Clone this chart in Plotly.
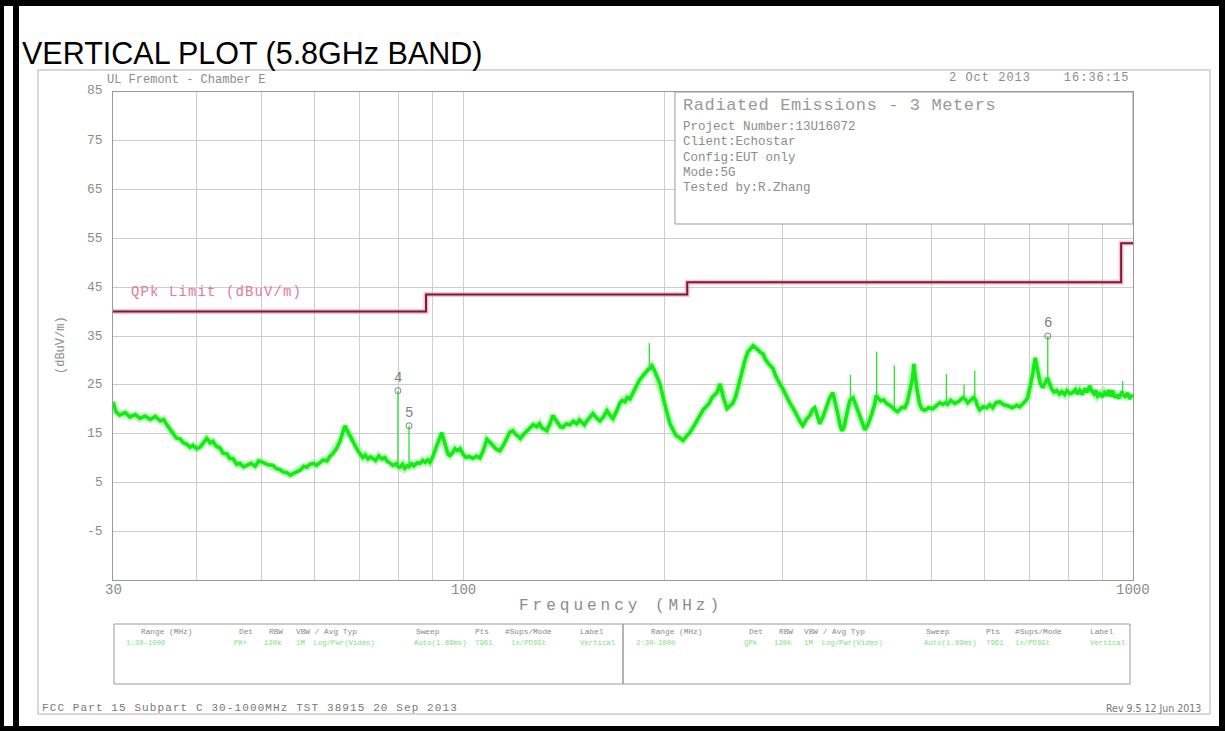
import plotly.graph_objects as go
import math

# ---------------- data ----------------
# measured peak trace (MHz, dBuV/m), read off the picture segment by segment
freq_30_100 = [
    30.0, 30.3, 30.7, 31.3, 31.8, 32.4, 32.9, 33.5, 34.1, 34.7, 35.3, 35.7, 36.1, 36.5, 36.9, 37.3,
    37.8, 38.2, 38.7, 39.1, 39.5, 40.0, 40.5, 40.9, 41.4, 41.9, 42.3, 42.8, 43.3, 43.8, 44.4, 44.8,
    45.3, 45.9, 46.4, 47.0, 47.5, 48.2, 48.9, 49.5, 50.2, 51.1, 52.0, 52.6, 53.3, 53.9, 54.6, 55.2,
    55.7, 56.4, 57.1, 57.8, 58.4, 59.0, 59.7, 60.4, 61.1, 61.8, 62.6, 63.2, 63.9, 64.7, 65.5, 66.1,
    66.6, 67.0, 67.5, 68.4, 69.0, 69.6, 70.8, 71.4, 72.1, 72.7, 73.3, 74.0, 74.8, 75.6, 76.4, 77.0,
    77.7, 78.5, 79.5, 79.9, 80.4, 81.2, 81.8, 82.5, 83.0, 83.7, 84.4, 85.3, 86.2, 87.0, 87.7, 88.5,
    89.2, 90.1, 91.1, 92.0, 92.9, 93.5, 94.2, 94.9, 95.5, 96.3, 97.2, 98.0, 98.9, 99.9, 100.9,
]
level_30_100 = [
    21.5, 19.5, 18.8, 19.3, 18.4, 18.9, 18.1, 18.6, 17.9, 18.5, 17.6, 17.9, 16.8, 15.9, 15.2, 14.1,
    13.9, 13.1, 12.8, 12.2, 12.6, 11.9, 12.3, 13.2, 14.0, 13.1, 13.4, 12.4, 12.1, 11.0, 10.8, 9.9,
    9.9, 8.7, 8.9, 8.2, 8.5, 8.9, 8.3, 9.4, 9.1, 8.6, 8.5, 7.8, 7.6, 7.1, 7.0, 6.5,
    6.8, 7.2, 7.5, 8.3, 8.1, 8.7, 8.9, 8.5, 9.1, 9.6, 9.4, 10.3, 10.9, 12.0, 13.5, 15.0,
    16.6, 15.8, 15.0, 13.6, 12.3, 11.5, 10.1, 10.6, 9.8, 10.2, 9.9, 9.5, 10.4, 9.8, 10.1, 9.3,
    9.0, 8.5, 8.8, 8.3, 8.1, 8.7, 7.9, 8.4, 8.2, 8.8, 8.4, 9.0, 8.9, 9.5, 9.1, 9.6,
    9.1, 10.3, 12.2, 14.0, 15.2, 13.8, 11.9, 10.8, 10.5, 11.0, 11.9, 11.5, 11.9, 10.8, 10.1,
]
freq_100_330 = [
    102.1, 103.4, 104.6, 105.9, 107.2, 108.5, 109.6, 110.7, 112.0, 113.4, 114.8, 116.2, 117.4, 118.6,
    119.6, 120.7, 121.7, 122.8, 124.3, 125.7, 127.2, 128.8, 130.0, 131.0, 132.1, 133.3, 134.7, 136.1,
    137.3, 138.5, 139.7, 140.9, 142.6, 144.3, 146.0, 147.8, 149.1, 150.4, 151.7, 153.0, 154.6, 156.2,
    158.1, 160.0, 161.9, 163.9, 165.6, 167.3, 169.3, 171.4, 172.8, 174.3, 175.8, 177.4, 179.5, 181.7,
    183.3, 184.9, 186.5, 188.1, 189.0, 190.0, 191.3, 192.6, 194.0, 196.7, 198.5, 200.1, 201.8,
    203.6, 205.7, 207.8, 210.3, 212.9, 215.5, 218.1, 220.7, 223.4, 225.7, 228.0, 231.2, 233.0, 235.2,
    237.2, 239.3, 241.8, 244.3, 247.7, 250.2, 252.8, 255.0, 257.2, 259.4, 261.7, 264.0, 266.3, 268.6,
    270.9, 273.2, 275.6, 278.0, 280.4, 282.8, 285.3, 287.7, 290.2, 292.7, 295.3, 297.6, 300.0, 302.6,
    305.2, 307.8, 310.5, 313.2, 315.9, 318.6, 321.4, 325.3, 329.2,
]
level_100_330 = [
    10.3, 9.9, 10.4, 10.0, 11.6, 13.8, 13.3, 12.6, 11.8, 11.5, 12.6, 14.3, 15.3, 15.6,
    14.9, 14.5, 14.0, 14.7, 15.5, 16.1, 16.8, 16.4, 17.0, 16.2, 15.9, 15.6, 17.0, 18.7,
    17.9, 17.1, 16.4, 16.3, 17.0, 16.8, 17.5, 17.0, 17.8, 17.3, 16.8, 17.6, 18.4, 19.1,
    18.2, 17.6, 18.4, 19.7, 18.8, 18.1, 19.5, 21.3, 21.8, 21.5, 22.4, 22.1, 23.5, 25.2,
    26.0, 26.6, 27.3, 27.9, 28.2, 28.3, 28.9, 28.2, 27.0, 25.2, 22.8, 20.5, 18.9,
    17.0, 15.6, 14.6, 14.2, 13.6, 14.5, 15.3, 16.4, 17.6, 18.6, 19.8, 20.7, 21.2, 22.4,
    22.9, 23.4, 25.2, 22.6, 20.1, 20.8, 21.3, 22.5, 24.6, 26.8, 28.5, 30.5, 31.8, 32.5,
    33.0, 32.6, 32.0, 31.6, 31.3, 30.1, 29.4, 28.8, 28.3, 26.8, 25.7, 25.0, 24.2, 23.1,
    22.0, 21.1, 20.3, 19.3, 18.1, 17.4, 16.6, 17.9, 18.7,
]
freq_330_1000 = [
    331.9, 334.9, 337.8, 340.7, 344.8, 349.0, 352.6, 356.3, 359.4, 362.5, 365.0, 367.5, 370.0, 372.5,
    375.1, 377.7, 382.0, 386.9, 392.0, 397.7, 402.0, 407.3, 411.5, 413.5, 415.8,
    420.0, 424.5, 429.0, 433.4, 437.0, 439.5, 441.5, 445.0, 448.6, 452.5, 456.4, 460.3, 464.3,
    468.2, 471.0, 472.1, 476.2, 480.4, 484.5, 488.7, 495.5, 502.4, 508.5, 514.6, 520.0, 525.0,
    528.5, 534.5, 541.9, 549.4, 557.0, 562.0, 566.5, 570.5, 575.0, 578.5, 582.5, 586.0,
    590.4, 597.5, 604.8, 611.0, 617.4, 625.0, 632.5, 641.3, 650.1, 660.3, 670.6, 677.5, 684.6, 690.5,
    696.5, 702.5, 708.5, 714.5, 720.8, 727.0, 733.3, 739.5, 745.0, 747.0, 752.0, 756.3, 762.5,
    769.4, 776.5, 783.0, 790.8, 797.0, 804.5, 812.7, 820.5, 826.0, 832.5, 840.0, 847.0, 854.5, 861.6,
    868.5, 875.0, 880.0, 885.6, 893.0, 900.0, 906.5, 913.4, 919.5, 926.0, 932.0, 938.9, 945.0, 951.5,
    958.0, 963.5, 966.5, 973.0, 981.9, 988.5, 994.0, 999.0,
]
level_330_1000 = [
    19.8, 20.3, 18.8, 17.0, 18.6, 20.6, 22.4, 23.4, 21.5, 19.0, 16.9, 15.6, 16.2, 18.0,
    20.0, 21.8, 22.3, 20.4, 18.2, 15.8, 16.8, 19.0, 21.0, 22.8, 22.3,
    21.7, 21.9, 21.1, 20.8, 20.3, 20.0, 19.8, 19.5, 19.9, 20.4, 20.3, 21.5, 23.8,
    26.0, 29.3, 27.5, 23.8, 21.0, 20.0, 19.8, 20.3, 20.1, 20.7, 21.3, 21.0, 21.3,
    21.0, 21.8, 21.2, 21.6, 22.3, 22.0, 21.3, 21.6, 22.0, 22.4, 21.8, 20.6,
    19.9, 20.5, 20.3, 20.9, 20.3, 21.4, 21.5, 20.9, 20.7, 20.3, 20.8, 20.5, 21.1, 21.6,
    22.4, 24.6, 27.3, 30.5, 28.0, 25.3, 24.4, 25.4, 26.4, 26.0, 25.0, 24.1, 23.5,
    23.8, 23.1, 23.6, 23.0, 23.8, 23.2, 23.4, 24.0, 23.1, 23.9, 23.0, 24.2, 23.5, 24.8,
    23.6, 23.1, 23.9, 22.7, 23.2, 22.5, 23.4, 22.8, 23.9, 22.6, 23.8, 22.4, 23.0, 22.2,
    23.1, 23.6, 22.9, 22.6, 23.3, 22.1, 22.9, 22.4,
]

# narrow single-frequency spikes: frequency, floor level, peak level
spike_freq_mhz = [79.9, 83.0, 189.6, 378.5, 414.3, 440.2, 526.5, 559.5, 580.4, 746.0, 965.0]
spike_floor_dbuv = [8.3, 8.2, 28.2, 21.8, 22.5, 20.0, 21.2, 22.0, 22.2, 26.0, 23.0]
spike_peak_dbuv = [23.8, 16.6, 33.5, 27.0, 31.8, 29.0, 27.2, 25.0, 27.9, 35.0, 25.8]

limit_freq_mhz = [30, 88, 88, 216, 216, 960, 960, 1000]
limit_level_dbuv = [40, 40, 43.5, 43.5, 46, 46, 54, 54]

marker_ids = ["4", "5", "6"]
marker_freq_mhz = [79.9, 83.0, 746.0]
marker_level_dbuv = [23.8, 16.6, 35.0]

y_tick_values = [85, 75, 65, 55, 45, 35, 25, 15, 5, -5]
y_grid_values = [75, 65, 55, 45, 35, 25, 15, 5, -5]
x_grid_mhz = [30, 40, 50, 60, 70, 80, 90, 100, 200, 300, 400, 500, 600, 700, 800, 900, 1000]
x_label_mhz = [30, 100, 1000]
x_label_text = ["30", "100", "1000"]

title_text = "VERTICAL PLOT (5.8GHz BAND)"
site_text = "UL Fremont - Chamber E"
date_text = "2 Oct 2013    16:36:15"
info_title = "Radiated Emissions - 3 Meters"
info_lines = ["Project Number:13U16072", "Client:Echostar", "Config:EUT only",
              "Mode:5G", "Tested by:R.Zhang"]
limit_label = "QPk Limit (dBuV/m)"
y_title = "(dBuV/m)"
x_title = "Frequency (MHz)"
legend_headers = ["Range (MHz)", "Det", "RBW", "VBW / Avg Typ", "Sweep", "Pts", "#Sups/Mode", "Label"]
legend_values_left = ["1:30-1000", "PK+", "120k", "1M  Log/Pwr(Video)", "Auto(1.89ms)", "7961", "1x/PDSGt", "Vertical"]
legend_values_right = ["2:30-1000", "QPk", "120k", "1M  Log/Pwr(Video)", "Auto(1.89ms)", "7961", "1x/PDSGt", "Vertical"]
footer_left = "FCC Part 15 Subpart C 30-1000MHz TST 38915 20 Sep 2013"
footer_right = "Rev 9.5 12 Jun 2013"

trace_freq_mhz = freq_30_100 + freq_100_330 + freq_330_1000
trace_level_dbuv = level_30_100 + level_100_330 + level_330_1000

# ---------------- layout geometry (pixels) ----------------
W, H = 1225, 731
L, R, T, B = 113, 1133, 92, 580
Y0, Y1 = -15, 85


def px(x):
    return (x - L) / (R - L)


def py(y):
    return (B - y) / (B - T)


GRAY = "#9a9a9a"
TXT = "#8c8c8c"
MONO = "Liberation Mono, DejaVu Sans Mono, monospace"

fig = go.Figure()

# measured trace: soft halo + core
fig.add_trace(go.Scatter(x=trace_freq_mhz, y=trace_level_dbuv, mode="lines",
                         line=dict(color="rgba(110,245,110,0.45)", width=7.5),
                         hoverinfo="skip", showlegend=False))
fig.add_trace(go.Scatter(x=trace_freq_mhz, y=trace_level_dbuv, mode="lines",
                         line=dict(color="#14eb14", width=3.6),
                         name="Vertical", showlegend=False))

# thin spikes (built from the spike lists)
sx, sy = [], []
for f, lo, hi in zip(spike_freq_mhz, spike_floor_dbuv, spike_peak_dbuv):
    sx += [f, f, None]
    sy += [lo, hi, None]
fig.add_trace(go.Scatter(x=sx, y=sy, mode="lines", connectgaps=False,
                         line=dict(color="#2fe02f", width=1.3),
                         hoverinfo="skip", showlegend=False))

# limit line: halo + core
fig.add_trace(go.Scatter(x=limit_freq_mhz, y=limit_level_dbuv, mode="lines",
                         line=dict(color="rgba(235,150,170,0.55)", width=5),
                         hoverinfo="skip", showlegend=False))
fig.add_trace(go.Scatter(x=limit_freq_mhz, y=limit_level_dbuv, mode="lines",
                         line=dict(color="#7a1a33", width=2),
                         name="QPk Limit", showlegend=False))

# marker circles
fig.add_trace(go.Scatter(x=marker_freq_mhz, y=marker_level_dbuv, mode="markers",
                         marker=dict(symbol="circle-open", size=6, color="#808080",
                                     line=dict(width=1, color="#808080")),
                         showlegend=False))

annotations = []
for mid, mf, ml in zip(marker_ids, marker_freq_mhz, marker_level_dbuv):
    annotations.append(dict(x=math.log10(mf), y=ml, xref="x", yref="y", text=mid,
                            showarrow=False, yshift=13, font=dict(family=MONO, size=14, color="#808080")))

# texts
annotations.append(dict(x=px(20), y=py(53), xref="paper", yref="paper", text=title_text,
                        showarrow=False, xanchor="left", yanchor="middle",
                        font=dict(family="Liberation Sans, Arial", size=30.5, color="#000")))
annotations.append(dict(x=px(105), y=py(80), xref="paper", yref="paper", text=site_text,
                        showarrow=False, xanchor="left", yanchor="middle",
                        font=dict(family=MONO, size=12, color=TXT)))
annotations.append(dict(x=px(1131), y=py(78), xref="paper", yref="paper",
                        text='<span style="letter-spacing:1px">' + date_text + '</span>',
                        showarrow=False, xanchor="right", yanchor="middle",
                        font=dict(family=MONO, size=12, color=TXT)))
annotations.append(dict(x=px(681), y=py(106), xref="paper", yref="paper",
                        text='<span style="letter-spacing:0.6px">' + info_title + '</span>',
                        showarrow=False, xanchor="left", yanchor="middle",
                        font=dict(family=MONO, size=17, color="#999")))
for i, line in enumerate(info_lines):
    annotations.append(dict(x=px(681), y=py(127 + 15.3 * i), xref="paper", yref="paper", text=line,
                            showarrow=False, xanchor="left", yanchor="middle",
                            font=dict(family=MONO, size=12.5, color=TXT)))
annotations.append(dict(x=px(129), y=py(292), xref="paper", yref="paper",
                        text='<span style="letter-spacing:1.1px">' + limit_label + '</span>',
                        showarrow=False, xanchor="left", yanchor="middle",
                        font=dict(family=MONO, size=14, color="#e27a9a")))
annotations.append(dict(x=px(61), y=py(345), xref="paper", yref="paper", text=y_title,
                        showarrow=False, textangle=-90, xanchor="center", yanchor="middle",
                        font=dict(family=MONO, size=12, color=TXT)))
annotations.append(dict(x=px(621), y=py(606), xref="paper", yref="paper",
                        text='<span style="letter-spacing:4px">' + x_title + '</span>',
                        showarrow=False, xanchor="center", yanchor="middle",
                        font=dict(family=MONO, size=16, color=TXT)))
for fx, lab in zip(x_label_mhz, x_label_text):
    annotations.append(dict(x=math.log10(fx), y=py(590), xref="x", yref="paper", text=lab,
                            showarrow=False, xanchor="center", yanchor="middle",
                            font=dict(family=MONO, size=14, color=TXT)))
for v in y_tick_values:
    ypix = B - (v - Y0) * (B - T) / (Y1 - Y0)
    if v == 85:
        ypix -= 2
    annotations.append(dict(x=px(105), y=py(ypix), xref="paper", yref="paper", text=str(v),
                            showarrow=False, xanchor="right", yanchor="middle",
                            font=dict(family=MONO, size=13, color=TXT)))

# legend box texts
hdr_left_x = [139, 237, 267, 294, 414, 473, 503, 578]
hdr_right_x = [649, 747, 777, 802, 924, 984, 1013, 1088]
val_left_x = [124, 232, 262, 294, 412, 473, 509, 578]
val_right_x = [634, 742, 772, 802, 922, 984, 1013, 1088]
for hx, h in zip(hdr_left_x + hdr_right_x, legend_headers + legend_headers):
    annotations.append(dict(x=px(hx), y=py(632), xref="paper", yref="paper", text=h, showarrow=False,
                            xanchor="left", yanchor="middle", font=dict(family=MONO, size=7.8, color="#888")))
for vx, v in zip(val_left_x + val_right_x, legend_values_left + legend_values_right):
    annotations.append(dict(x=px(vx), y=py(643), xref="paper", yref="paper", text=v, showarrow=False,
                            xanchor="left", yanchor="middle", font=dict(family=MONO, size=7.3, color="#7ee07e")))

NARROW = "Liberation Sans Narrow, DejaVu Sans Condensed, sans-serif"
annotations.append(dict(x=px(40), y=py(708), xref="paper", yref="paper",
                        text='<span style="letter-spacing:1.1px">' + footer_left + '</span>',
                        showarrow=False, xanchor="left", yanchor="middle",
                        font=dict(family=MONO, size=11, color="#777")))
annotations.append(dict(x=px(1203), y=py(708), xref="paper", yref="paper", text=footer_right,
                        showarrow=False, xanchor="right", yanchor="middle",
                        font=dict(family=NARROW, size=10.5, color="#777")))

# shapes
shapes = []


def rect(x0, y0, x1, y1, color, width, fill=None):
    d = dict(type="rect", xref="paper", yref="paper", x0=px(x0), x1=px(x1), y0=py(y1), y1=py(y0),
             line=dict(color=color, width=width), layer="above")
    if fill:
        d["fillcolor"] = fill
    shapes.append(d)


def fillrect(x0, y0, x1, y1, color):
    shapes.append(dict(type="rect", xref="paper", yref="paper", x0=px(x0), x1=px(x1), y0=py(y1), y1=py(y0),
                       line=dict(width=0), fillcolor=color, layer="above"))


# outer black frame
fillrect(0, 0, 1225, 6, "#000")
fillrect(0, 0, 4, 731, "#000")
fillrect(13, 0, 19, 731, "#000")
fillrect(1219, 0, 1225, 731, "#000")
fillrect(0, 726, 1225, 731, "#000")
# page frame
rect(38, 70, 1210, 714, "#b0b0b0", 1)
# info box
rect(675, 92, 1133, 224, GRAY, 1, fill="white")
# legend boxes
rect(114, 624, 623, 684, GRAY, 1)
rect(623, 624, 1130, 684, GRAY, 1)

fig.update_layout(
    width=W, height=H,
    margin=dict(l=L, r=W - R, t=T, b=H - B, pad=0),
    paper_bgcolor="white", plot_bgcolor="white",
    showlegend=False,
    annotations=annotations,
    shapes=shapes,
    xaxis=dict(type="log", range=[math.log10(30), math.log10(1000)],
               tickvals=x_grid_mhz, showticklabels=False, ticks="",
               showgrid=True, gridcolor="#cdcdcd", gridwidth=1,
               showline=True, linecolor=GRAY, linewidth=1, mirror=True, zeroline=False),
    yaxis=dict(range=[Y0, Y1], tickvals=y_grid_values,
               showticklabels=False, ticks="",
               showgrid=True, gridcolor="#cdcdcd", gridwidth=1,
               showline=True, linecolor=GRAY, linewidth=1, mirror=True, zeroline=False),
)

fig.write_html("out.html", config={"displayModeBar": False},
               post_script="document.body.style.margin='0px';document.body.style.overflow='hidden';")
